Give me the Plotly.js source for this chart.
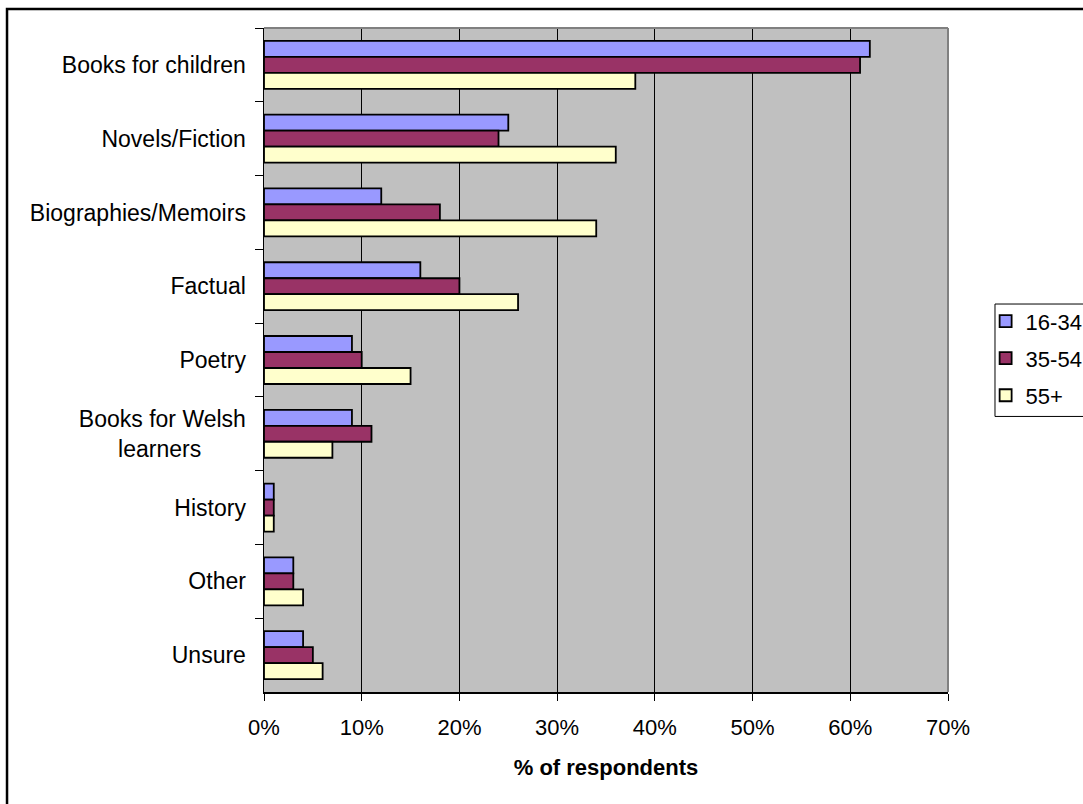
<!DOCTYPE html>
<html>
<head>
<meta charset="utf-8">
<script src="https://cdn.plot.ly/plotly-3.0.1.min.js"></script>
<style>
html,body{margin:0;padding:0;background:#fff;}
#chart{width:1083px;height:804px;}
</style>
</head>
<body>
<div id="chart"></div>
<script>
// Categories (top to bottom)
const NB = "\u00a0";
const categories = [
  "Books for children",
  "Novels/Fiction",
  "Biographies/Memoirs",
  "Factual",
  "Poetry",
  "Books for Welsh<br>learners" + NB.repeat(7),
  "History",
  "Other",
  "Unsure"
];
// Series values (% of respondents)
const age16to34 = [62, 25, 12, 16, 9, 9, 1, 3, 4];
const age35to54 = [61, 24, 18, 20, 10, 11, 1, 3, 5];
const age55plus = [38, 36, 34, 26, 15, 7, 1, 4, 6];
const seriesNames = ["16-34", "35-54", "55+"];
const seriesColors = ["#9999FF", "#993366", "#FFFFCC"];
const xTickValues = [0, 10, 20, 30, 40, 50, 60, 70];

const FONT = "'Liberation Sans', Arial, sans-serif";
const series = [age16to34, age35to54, age55plus];

const traces = series.map((vals, i) => ({
  type: "bar",
  orientation: "h",
  name: seriesNames[i],
  y: categories,
  x: vals,
  legendgroup: "g" + i,
  marker: {color: seriesColors[i], line: {color: "#000000", width: 1.8}},
  hoverinfo: "x+y+name"
}));

const layout = {
  width: 1083,
  height: 804,
  margin: {l: 264, r: 135, t: 28, b: 112, autoexpand: false},
  paper_bgcolor: "#ffffff",
  plot_bgcolor: "#C0C0C0",
  font: {family: FONT, size: 22, color: "#000000"},
  barmode: "group",
  bargap: 0.35,
  bargroupgap: 0,
  showlegend: true,
  legend: {
    x: 1.055, xanchor: "left",
    y: 0.59, yanchor: "top",
    bgcolor: "rgba(0,0,0,0)",
    borderwidth: 0,
    traceorder: "grouped",
    tracegroupgap: 5.5,
    font: {family: FONT, size: 22, color: "#000"}
  },
  xaxis: {
    range: [0, 70],
    tickvals: xTickValues,
    ticktext: xTickValues.map(v => v + "%"),
    showgrid: true,
    gridcolor: "#000000",
    gridwidth: 1,
    zeroline: false,
    showline: true,
    linecolor: "#000000",
    linewidth: 1.5,
    ticks: "outside",
    ticklen: 7,
    tickcolor: "#000000",
    tickwidth: 1,
    ticklabelstandoff: 8,
    tickfont: {family: FONT, size: 22},
    title: {text: "<b>% of respondents</b>", font: {family: FONT, size: 22}, standoff: 20},
    fixedrange: true
  },
  yaxis: {
    type: "category",
    autorange: "reversed",
    showgrid: false,
    zeroline: false,
    showline: true,
    linecolor: "#000000",
    linewidth: 1.5,
    ticks: "outside",
    tickson: "boundaries",
    ticklen: 8,
    tickcolor: "#000000",
    tickwidth: 1,
    ticklabelstandoff: 12,
    tickfont: {family: FONT, size: 23},
    fixedrange: true
  },
  shapes: [
    // plot frame top and right (grey)
    {type: "line", xref: "paper", yref: "paper", x0: 0, x1: 1, y0: 1, y1: 1, line: {color: "#808080", width: 2}},
    {type: "line", xref: "paper", yref: "paper", x0: 1, x1: 1, y0: 0, y1: 1, line: {color: "#808080", width: 2}},
    // outer chart border (left/top visible)
    {type: "rect", xref: "paper", yref: "paper", x0: -0.3757, x1: 1.215, y0: -0.19, y1: 1.0286, line: {color: "#000000", width: 2.5}, fillcolor: "rgba(0,0,0,0)"},
    // legend box
    {type: "rect", xref: "paper", yref: "paper", x0: 1.0687, x1: 1.22, y0: 0.415, y1: 0.5843, line: {color: "#000000", width: 1}, fillcolor: "rgba(0,0,0,0)"}
  ]
};

Plotly.newPlot("chart", traces, layout, {displayModeBar: false, staticPlot: true});
</script>
</body>
</html>
